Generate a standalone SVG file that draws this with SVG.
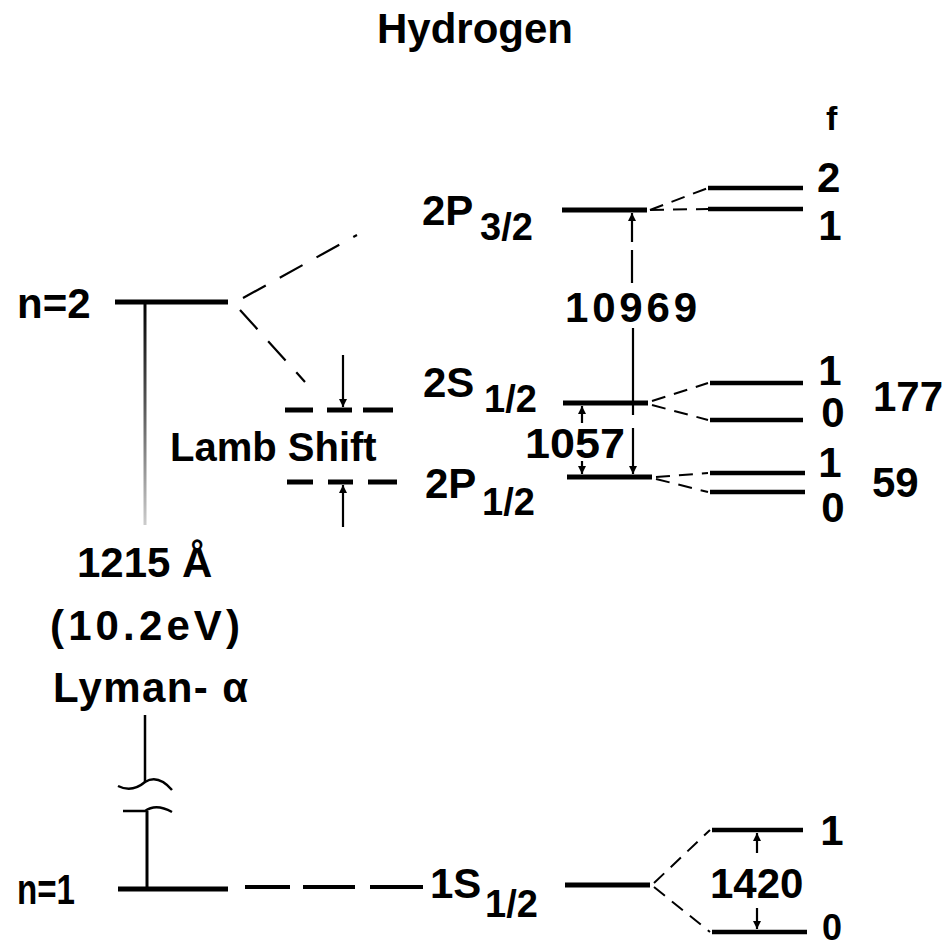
<svg xmlns="http://www.w3.org/2000/svg" width="945" height="950" viewBox="0 0 945 950">
<defs>
<marker id="ah" markerUnits="userSpaceOnUse" markerWidth="8" markerHeight="10" refX="8" refY="4" orient="auto">
<path d="M0,0 L8,4 L0,8 z" fill="#000"/>
</marker>
<linearGradient id="fade" gradientUnits="userSpaceOnUse" x1="0" y1="302" x2="0" y2="525">
<stop offset="0" stop-color="#000"/>
<stop offset="0.45" stop-color="#555"/>
<stop offset="1" stop-color="#ccc"/>
</linearGradient>
<style>
text{font-family:"Liberation Sans",Arial,sans-serif;font-weight:bold;fill:#000}
.lab{font-size:42px}
.sub{font-size:38px}
.num{font-size:42px}
.lvl{stroke:#000;stroke-width:5;fill:none}
.hf{stroke:#000;stroke-width:4.5;fill:none}
.dash{stroke:#000;stroke-width:2.2;fill:none;stroke-dasharray:26 16}
.sdash{stroke:#000;stroke-width:2;fill:none;stroke-dasharray:14 9}
.ldash{stroke:#000;stroke-width:4;fill:none}
.vl{stroke:#000;stroke-width:2.2;fill:none}
.arr{stroke:#000;stroke-width:2.2;fill:none;marker-end:url(#ah)}
</style>
</defs>
<rect width="945" height="950" fill="#fff"/>

<g id="title"><text x="475" y="43" text-anchor="middle" font-size="42">Hydrogen</text></g>
<g id="f-label"><text x="826" y="130" font-size="34">f</text></g>

<g id="n2">
<text x="17" y="318" font-size="42">n=2</text>
<line class="lvl" x1="115" y1="302" x2="228" y2="302"/>
</g>

<g id="n1">
<text class="lab" x="17" y="904" textLength="58" lengthAdjust="spacingAndGlyphs">n=1</text>
<line class="lvl" x1="118" y1="889" x2="228" y2="889"/>
</g>

<g id="P32">
<text class="lab" x="422" y="225">2P</text><text class="sub" x="480" y="240">3/2</text>
<line class="lvl" x1="562" y1="210" x2="647" y2="210"/>
</g>

<g id="S12">
<text class="lab" x="423" y="397">2S</text><text class="sub" x="484" y="412">1/2</text>
<line class="lvl" x1="563" y1="403" x2="648" y2="403"/>
</g>

<g id="P12">
<text class="lab" x="425" y="498">2P</text><text class="sub" x="482" y="515">1/2</text>
<line class="lvl" x1="567" y1="477" x2="652" y2="477"/>
</g>

<g id="S1">
<text class="lab" x="430" y="898">1S</text><text class="sub" x="485" y="917">1/2</text>
<line class="lvl" x1="565" y1="885" x2="650" y2="885"/>
</g>

<g id="lamb">
<line class="lvl" x1="285" y1="410" x2="313" y2="410"/>
<line class="lvl" x1="327" y1="410" x2="352" y2="410"/>
<line class="lvl" x1="363" y1="410" x2="393" y2="410"/>
<line class="lvl" x1="287" y1="482" x2="313" y2="482"/>
<line class="lvl" x1="328" y1="482" x2="353" y2="482"/>
<line class="lvl" x1="368" y1="482" x2="397" y2="482"/>
<text x="170" y="461" font-size="40">Lamb Shift</text>
</g>

<g id="split-P32-S12">
<text class="num" x="565" y="322" textLength="132" lengthAdjust="spacing">10969</text>
</g>

<g id="split-S12-P12">
<text class="num" x="525" y="458" textLength="100" lengthAdjust="spacingAndGlyphs">1057</text>
</g>

<g id="hf-P32">
<line class="hf" x1="708" y1="188" x2="803" y2="188"/>
<line class="hf" x1="708" y1="209" x2="803" y2="209"/>
<text class="num" x="817" y="192">2</text>
<text class="num" x="830" y="240" text-anchor="middle">1</text>
</g>

<g id="hf-S12">
<line class="hf" x1="710" y1="383" x2="803" y2="383"/>
<line class="hf" x1="710" y1="420" x2="803" y2="420"/>
<text class="num" x="830" y="385" text-anchor="middle">1</text>
<text class="num" x="833" y="427" text-anchor="middle">0</text>
<text class="num" x="873" y="411">177</text>
</g>

<g id="hf-P12">
<line class="hf" x1="710" y1="473" x2="805" y2="473"/>
<line class="hf" x1="710" y1="492" x2="805" y2="492"/>
<text class="num" x="830" y="477" text-anchor="middle">1</text>
<text class="num" x="833" y="522" text-anchor="middle">0</text>
<text class="num" x="872" y="497">59</text>
</g>

<g id="hf-S1">
<line class="hf" x1="712" y1="830" x2="803" y2="830"/>
<line class="hf" x1="712" y1="932" x2="807" y2="932"/>
<text class="num" x="832" y="845" text-anchor="middle">1</text>
<text x="832" y="940" text-anchor="middle" font-size="36">0</text>
<text class="num" x="710" y="898">1420</text>
</g>

<g id="lyman">
<text class="num" x="77" y="577">1215 Å</text>
<text class="num" x="50" y="640" textLength="190" lengthAdjust="spacing">(10.2eV)</text>
<text class="num" x="53" y="702" textLength="195" lengthAdjust="spacing">Lyman- α</text>
</g>

<g id="connectors">
<line x1="145" y1="302" x2="145" y2="525" stroke="url(#fade)" stroke-width="3"/>
<line x1="145" y1="715" x2="145" y2="782" stroke="#000" stroke-width="2.5"/>
<path d="M118,786 Q132,793 145,782 Q158,774 172,790" stroke="#000" stroke-width="2.5" fill="none"/>
<path d="M123,811 L145,811 Q156,803 172,812" stroke="#000" stroke-width="2.5" fill="none"/>
<line x1="147" y1="811" x2="147" y2="889" stroke="#000" stroke-width="3"/>
<line class="ldash" x1="245" y1="887" x2="290" y2="887"/>
<line class="ldash" x1="303" y1="887" x2="355" y2="887"/>
<line class="ldash" x1="370" y1="887" x2="423" y2="887"/>
<path class="dash" d="M243,298 L357,235"/>
<path class="dash" d="M240,310 L305,382"/>
<path class="sdash" d="M650,210 L708,188"/>
<path class="sdash" d="M650,210 L708,209"/>
<path class="sdash" d="M652,401 L708,383"/>
<path class="sdash" d="M652,405 L708,420"/>
<path class="sdash" d="M656,477 L708,473"/>
<path class="sdash" d="M656,479 L708,492"/>
<path class="sdash" d="M654,883 L710,830"/>
<path class="sdash" d="M654,887 L710,932"/>
<line class="arr" x1="632" y1="242" x2="632" y2="213"/>
<line class="vl" x1="632" y1="250" x2="632" y2="283"/>
<line class="vl" x1="633" y1="328" x2="633" y2="415"/>
<line class="arr" x1="633" y1="428" x2="633" y2="474"/>
<line class="arr" x1="343" y1="355" x2="343" y2="407"/>
<line class="arr" x1="343" y1="527" x2="343" y2="485"/>
<line class="arr" x1="582" y1="423" x2="582" y2="406"/>
<line class="arr" x1="582" y1="461" x2="582" y2="474"/>
<line class="arr" x1="757" y1="853" x2="757" y2="833"/>
<line class="arr" x1="757" y1="908" x2="757" y2="929"/>
</g>
</svg>
